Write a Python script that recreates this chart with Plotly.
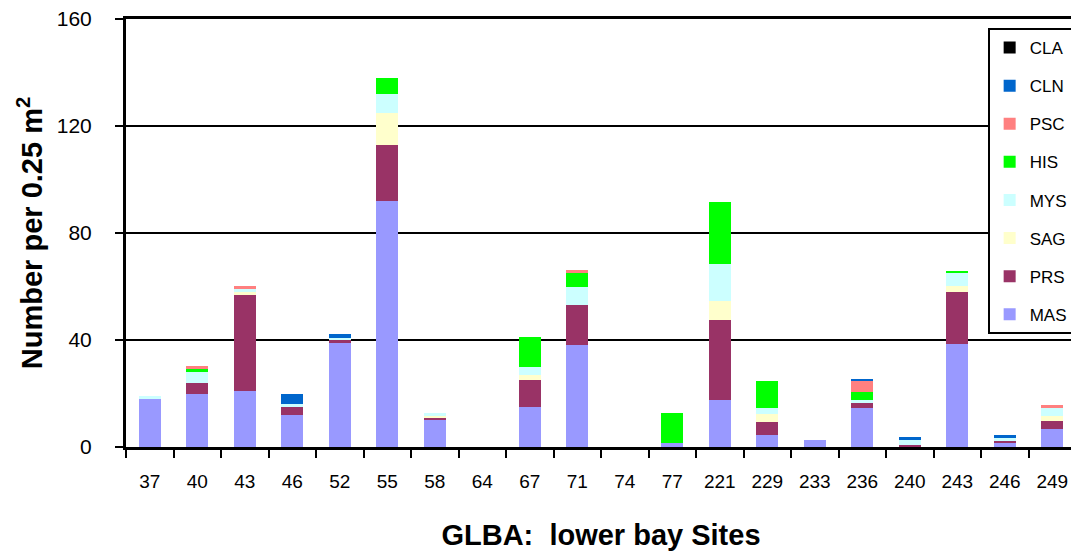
import plotly.graph_objects as go

sites = ["37", "40", "43", "46", "52", "55", "58", "64", "67", "71",
         "74", "77", "221", "229", "233", "236", "240", "243", "246", "249"]

MAS = [18, 20, 21, 12, 39, 92, 10, 0, 15, 38, 0, 1.5, 17.5, 4.5, 2.5, 14.5, 0.3, 38.4, 1.5, 6.7]
PRS = [0, 4, 36, 3, 1, 21, 1, 0, 10, 15, 0, 0, 30, 5, 0, 2.2, 0.4, 19.6, 0.8, 3]
SAG = [0, 0, 1, 0, 0, 12, 0.7, 0, 2, 0, 0, 0, 7, 3, 0, 0, 0, 2.2, 0, 1.9]
MYS = [1, 4, 1, 1, 0.9, 7, 1, 0, 3, 6.7, 0, 0, 14, 2, 0, 0.7, 1.9, 5.2, 1.1, 3]
HIS = [0, 1, 0, 0, 0, 6, 0, 0, 11, 5.2, 0, 11.2, 23, 10, 0, 3, 0, 0.3, 0, 0]
PSC = [0, 1.2, 1.1, 0, 0, 0, 0, 0, 0, 1.1, 0, 0, 0, 0, 0, 4.1, 0, 0, 0, 1.1]
CLN = [0, 0, 0, 4, 1.4, 0, 0, 0, 0, 0, 0, 0, 0, 0, 0, 1.1, 1.1, 0, 1.1, 0]
CLA = [0] * 20

series = [
    ("MAS", MAS, "#9999FF"),
    ("PRS", PRS, "#993366"),
    ("SAG", SAG, "#FFFFCC"),
    ("MYS", MYS, "#CCFFFF"),
    ("HIS", HIS, "#00FF00"),
    ("PSC", PSC, "#FF8080"),
    ("CLN", CLN, "#0066CC"),
    ("CLA", CLA, "#000000"),
]

FONT = "Arial, 'Liberation Sans', sans-serif"

fig = go.Figure()
for i, (name, vals, col) in enumerate(series):
    fig.add_trace(go.Bar(
        x=sites, y=vals, name=name, legendgroup=name,
        legendrank=1000 - i,
        marker=dict(color=col, line=dict(width=0)),
    ))

# page body has an 8px margin, so the figure is drawn 8px smaller and offset
fig.update_layout(
    width=1071, height=546,
    barmode="stack", bargap=0.54,
    plot_bgcolor="white", paper_bgcolor="white",
    margin=dict(l=118, r=3, t=11, b=107),
    font=dict(family=FONT, color="black"),
    legend=dict(
        x=0.907, y=0.979, xanchor="left", yanchor="top",
        traceorder="grouped", tracegroupgap=13,
        bgcolor="white", bordercolor="black", borderwidth=2,
        font=dict(size=17, family=FONT),
    ),
    xaxis=dict(
        type="category", tickson="boundaries", automargin=False,
        ticks="outside", ticklen=8, tickwidth=2, tickcolor="black",
        showline=True, linecolor="black", linewidth=3, mirror=True,
        tickfont=dict(size=19), ticklabelstandoff=15,
        title=dict(text="GLBA:  lower bay Sites", standoff=34,
                   font=dict(size=29, family=FONT, weight="bold")),
    ),
    yaxis=dict(
        range=[0, 160], dtick=40, tick0=0, automargin=False,
        ticks="outside", ticklen=8, tickwidth=2, tickcolor="black",
        showline=True, linecolor="black", linewidth=3, mirror=True,
        showgrid=True, gridcolor="black", gridwidth=2,
        zeroline=False, ticklabeloverflow="allow",
        tickfont=dict(size=21), ticklabelstandoff=19,
        title=dict(text="Number per 0.25 m<sup>2</sup>", standoff=6,
                   font=dict(size=29, family=FONT, weight="bold")),
    ),
)

fig.write_html("out.html")
